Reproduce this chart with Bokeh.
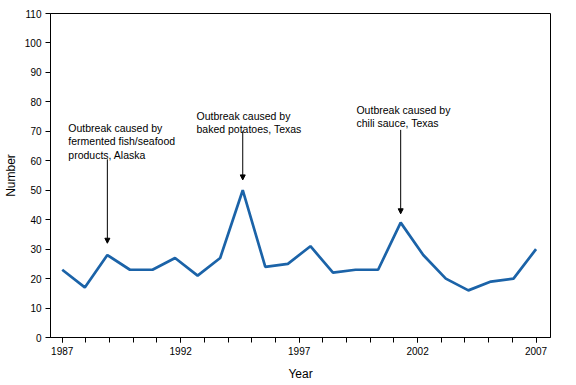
from bokeh.plotting import figure
from bokeh.models import Range1d, FixedTicker, Arrow, NormalHead, Label, ColumnDataSource
from bokeh.embed import file_html
from bokeh.resources import INLINE

# Data (22 annual points drawn across the 1987-2007 axis)
counts = [23, 17, 28, 23, 23, 27, 21, 27, 50, 24, 25, 31, 22, 23, 23, 39, 28, 20, 16, 19, 20, 30]
point_index = list(range(len(counts)))

year_labels = ["1987", "1992", "1997", "2002", "2007"]
y_ticks = [0, 10, 20, 30, 40, 50, 60, 70, 80, 90, 100, 110]

# Annotations
ann_texts = [
    "Outbreak caused by\nfermented fish/seafood\nproducts, Alaska",
    "Outbreak caused by\nbaked potatoes, Texas",
    "Outbreak caused by\nchili sauce, Texas",
]
ann_point = [2, 8, 15]
ann_text_x = [0.27, 5.95, 13.04]
ann_text_y = [73.1, 77.2, 79.3]
arrow_start = [60.5, 70.0, 70.5]
arrow_end = [32.0, 53.5, 42.0]

FONT = "Liberation Sans"

p = figure(width=560, height=383, output_backend="svg", toolbar_location=None,
           x_range=Range1d(-0.52, 21.64), y_range=Range1d(0, 110),
           min_border_left=43, min_border_top=13, min_border_right=10, min_border_bottom=46)
p.title.visible = False
p.grid.visible = False
p.outline_line_color = "black"
p.outline_line_width = 1
p.background_fill_color = "white"

src = ColumnDataSource(dict(x=point_index, y=counts))
p.line("x", "y", source=src, line_color="#1b63a8", line_width=2.7)

# x axis: 21 year ticks spread over the 22 points
n_years = 21
span = len(counts) - 1
tick_pos = [k * span / (n_years - 1) for k in range(n_years)]
major_pos = [tick_pos[k] for k in range(0, n_years, 5)]
p.xaxis.ticker = FixedTicker(ticks=major_pos, minor_ticks=tick_pos)
p.xaxis.major_label_overrides = {pos: lab for pos, lab in zip(major_pos, year_labels)}
p.xaxis.axis_label = "Year"
p.yaxis.ticker = FixedTicker(ticks=y_ticks, minor_ticks=[])
p.yaxis.axis_label = "Number"

for ax in (p.xaxis[0], p.yaxis[0]):
    ax.axis_line_color = "black"
    ax.major_tick_line_color = "black"
    ax.minor_tick_line_color = "black"
    ax.major_tick_in = 0
    ax.major_tick_out = 5
    ax.minor_tick_in = 0
    ax.minor_tick_out = 5
    ax.major_label_text_font = FONT
    ax.major_label_text_font_size = "10px"
    ax.major_label_text_color = "black"
    ax.axis_label_text_font = FONT
    ax.axis_label_text_font_size = "12px"
    ax.axis_label_text_font_style = "normal"
    ax.axis_label_text_color = "black"
    ax.major_label_standoff = 4
p.yaxis.axis_label_standoff = 4
p.xaxis.axis_label_standoff = 9

for t, tx, ty, pi, ys, ye in zip(ann_texts, ann_text_x, ann_text_y, ann_point, arrow_start, arrow_end):
    p.add_layout(Label(x=tx, y=ty, text=t, text_font=FONT, text_font_size="10.5px",
                       text_baseline="top", text_align="left", text_color="black",
                       text_line_height=1.1))
    p.add_layout(Arrow(x_start=pi, y_start=ys, x_end=pi, y_end=ye, line_width=1,
                       line_color="black",
                       end=NormalHead(size=5, fill_color="black", line_color="black")))

open("out.html", "w").write(file_html(p, INLINE))
